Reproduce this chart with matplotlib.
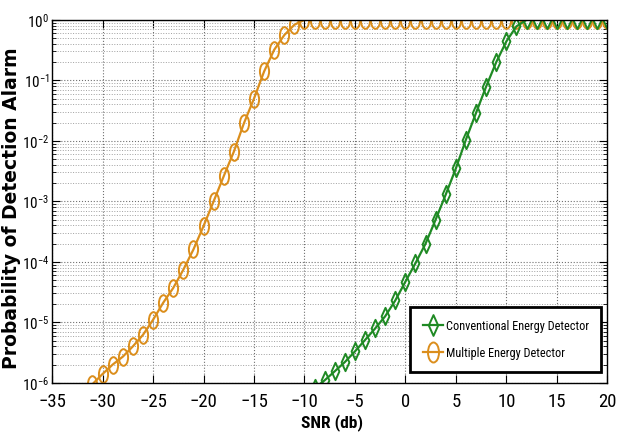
import numpy as np
import matplotlib
matplotlib.use("Agg")
from matplotlib import pyplot as plt
from matplotlib import font_manager
from matplotlib.path import Path
from matplotlib.ticker import FixedLocator, NullFormatter, LogFormatterSciNotation

# SNR (dB) and detection probability
snr_multi = list(range(-31, 21))
pd_multi = [9.5e-7, 1.4e-6, 2.0e-6, 2.7e-6, 4.0e-6, 6.2e-6, 1.1e-5, 2.1e-5,
            3.7e-5, 7.4e-5, 1.6e-4, 3.9e-4, 1.0e-3, 2.6e-3, 6.6e-3, 1.95e-2,
            5.0e-2, 0.14, 0.32, 0.56, 0.83] + [1.0] * 31

snr_conv = list(range(-9, 21))
pd_conv = [8.1e-7, 1.1e-6, 1.55e-6, 2.2e-6, 3.3e-6, 5.1e-6, 7.9e-6, 1.26e-5,
           2.3e-5, 4.7e-5, 9.5e-5, 2.0e-4, 5.0e-4, 1.3e-3, 3.5e-3, 1.05e-2,
           2.9e-2, 7.9e-2, 0.20, 0.44, 0.78] + [1.0] * 9

x_ticks = [-35, -30, -25, -20, -15, -10, -5, 0, 5, 10, 15, 20]
y_ticks = [1e-6, 1e-5, 1e-4, 1e-3, 1e-2, 1e-1, 1e0]
labels = ["Conventional Energy Detector", "Multiple Energy Detector"]

orange = "#DB8E1C"
green = "#1F8A24"

# look for a narrow face (the original uses an Arial Narrow look)
names = sorted({f.name for f in font_manager.fontManager.ttflist})
narrow_name = None
for key in ("Liberation Sans Narrow", "Roboto Condensed", "Open Sans Condensed",
            "DejaVu Sans Condensed"):
    if key in names:
        narrow_name = key
        break
if narrow_name is None:
    for n in names:
        if "Narrow" in n or "Condensed" in n:
            narrow_name = n
            break
if narrow_name is not None:
    narrow = [narrow_name, "DejaVu Sans"]
    shrink = 1.0
else:
    narrow = ["Liberation Sans", "DejaVu Sans"]
    shrink = 0.85

# tall narrow markers (the original image is stretched vertically)
circ = Path.unit_circle()
ellipse = Path(circ.vertices * [0.55, 1.0], circ.codes)
diamond = Path([(0, 1), (0.45, 0), (0, -1), (-0.45, 0), (0, 1)],
               [Path.MOVETO, Path.LINETO, Path.LINETO, Path.LINETO, Path.CLOSEPOLY])

plt.rcParams['mathtext.fontset'] = 'custom'
plt.rcParams['mathtext.rm'] = narrow[0]

fig = plt.figure(figsize=(6.28, 4.41), dpi=100)
ax = fig.add_axes([0.083, 0.132, 0.884, 0.823])

l_multi, = ax.plot(snr_multi, pd_multi, color=orange, lw=1.6, marker=ellipse,
                   ms=12, mfc='none', mec=orange, mew=1.4)
l_conv, = ax.plot(snr_conv, pd_conv, color=green, lw=1.6, marker=diamond,
                  ms=12.5, mfc='none', mec=green, mew=1.4)

ax.set_yscale('log')
ax.set_xlim(-35, 20)
ax.set_ylim(1e-6, 1)
ax.xaxis.set_major_locator(FixedLocator(x_ticks))
ax.yaxis.set_major_locator(FixedLocator(y_ticks))
ax.yaxis.set_major_formatter(LogFormatterSciNotation())
minor = [m * 10.0 ** e for e in range(-6, 0) for m in range(2, 10)]
ax.yaxis.set_minor_locator(FixedLocator(minor))
ax.yaxis.set_minor_formatter(NullFormatter())

ax.grid(True, which='major', linestyle=':', color='#707070', linewidth=0.8)
ax.grid(True, which='minor', axis='y', linestyle=':', color='#a0a0a0', linewidth=0.7)
ax.tick_params(which='both', direction='in', top=True, right=True)
ax.tick_params(which='major', length=6)
ax.tick_params(axis='x', pad=7, labelsize=13.5 * shrink)
ax.tick_params(axis='y', pad=2, labelsize=11 * shrink)
ax.tick_params(which='minor', length=3)
for t in ax.get_xticklabels() + ax.get_yticklabels():
    t.set_family(narrow)
for sp in ax.spines.values():
    sp.set_linewidth(1.0)

ax.set_xlabel("SNR (db)", fontsize=12.5 * shrink, fontweight='bold', family=narrow)
ax.xaxis.set_label_coords(0.505, -0.085)
ax.set_ylabel("Probability of Detection Alarm", fontsize=13.5, fontweight='bold',
              family=["DejaVu Sans"])
ax.yaxis.set_label_coords(-0.056, 0.48)

leg = ax.legend([l_conv, l_multi], labels, loc='lower right',
                bbox_to_anchor=(0.989, 0.03), fancybox=False, framealpha=1,
                edgecolor='black', prop={'family': narrow, 'size': 8.8 * shrink},
                handlelength=1.7, handletextpad=0.2, borderpad=1.0,
                labelspacing=1.15, borderaxespad=0.0, markerscale=1.2)
leg.get_frame().set_linewidth(2.0)

fig.savefig("out.png", dpi=100)
